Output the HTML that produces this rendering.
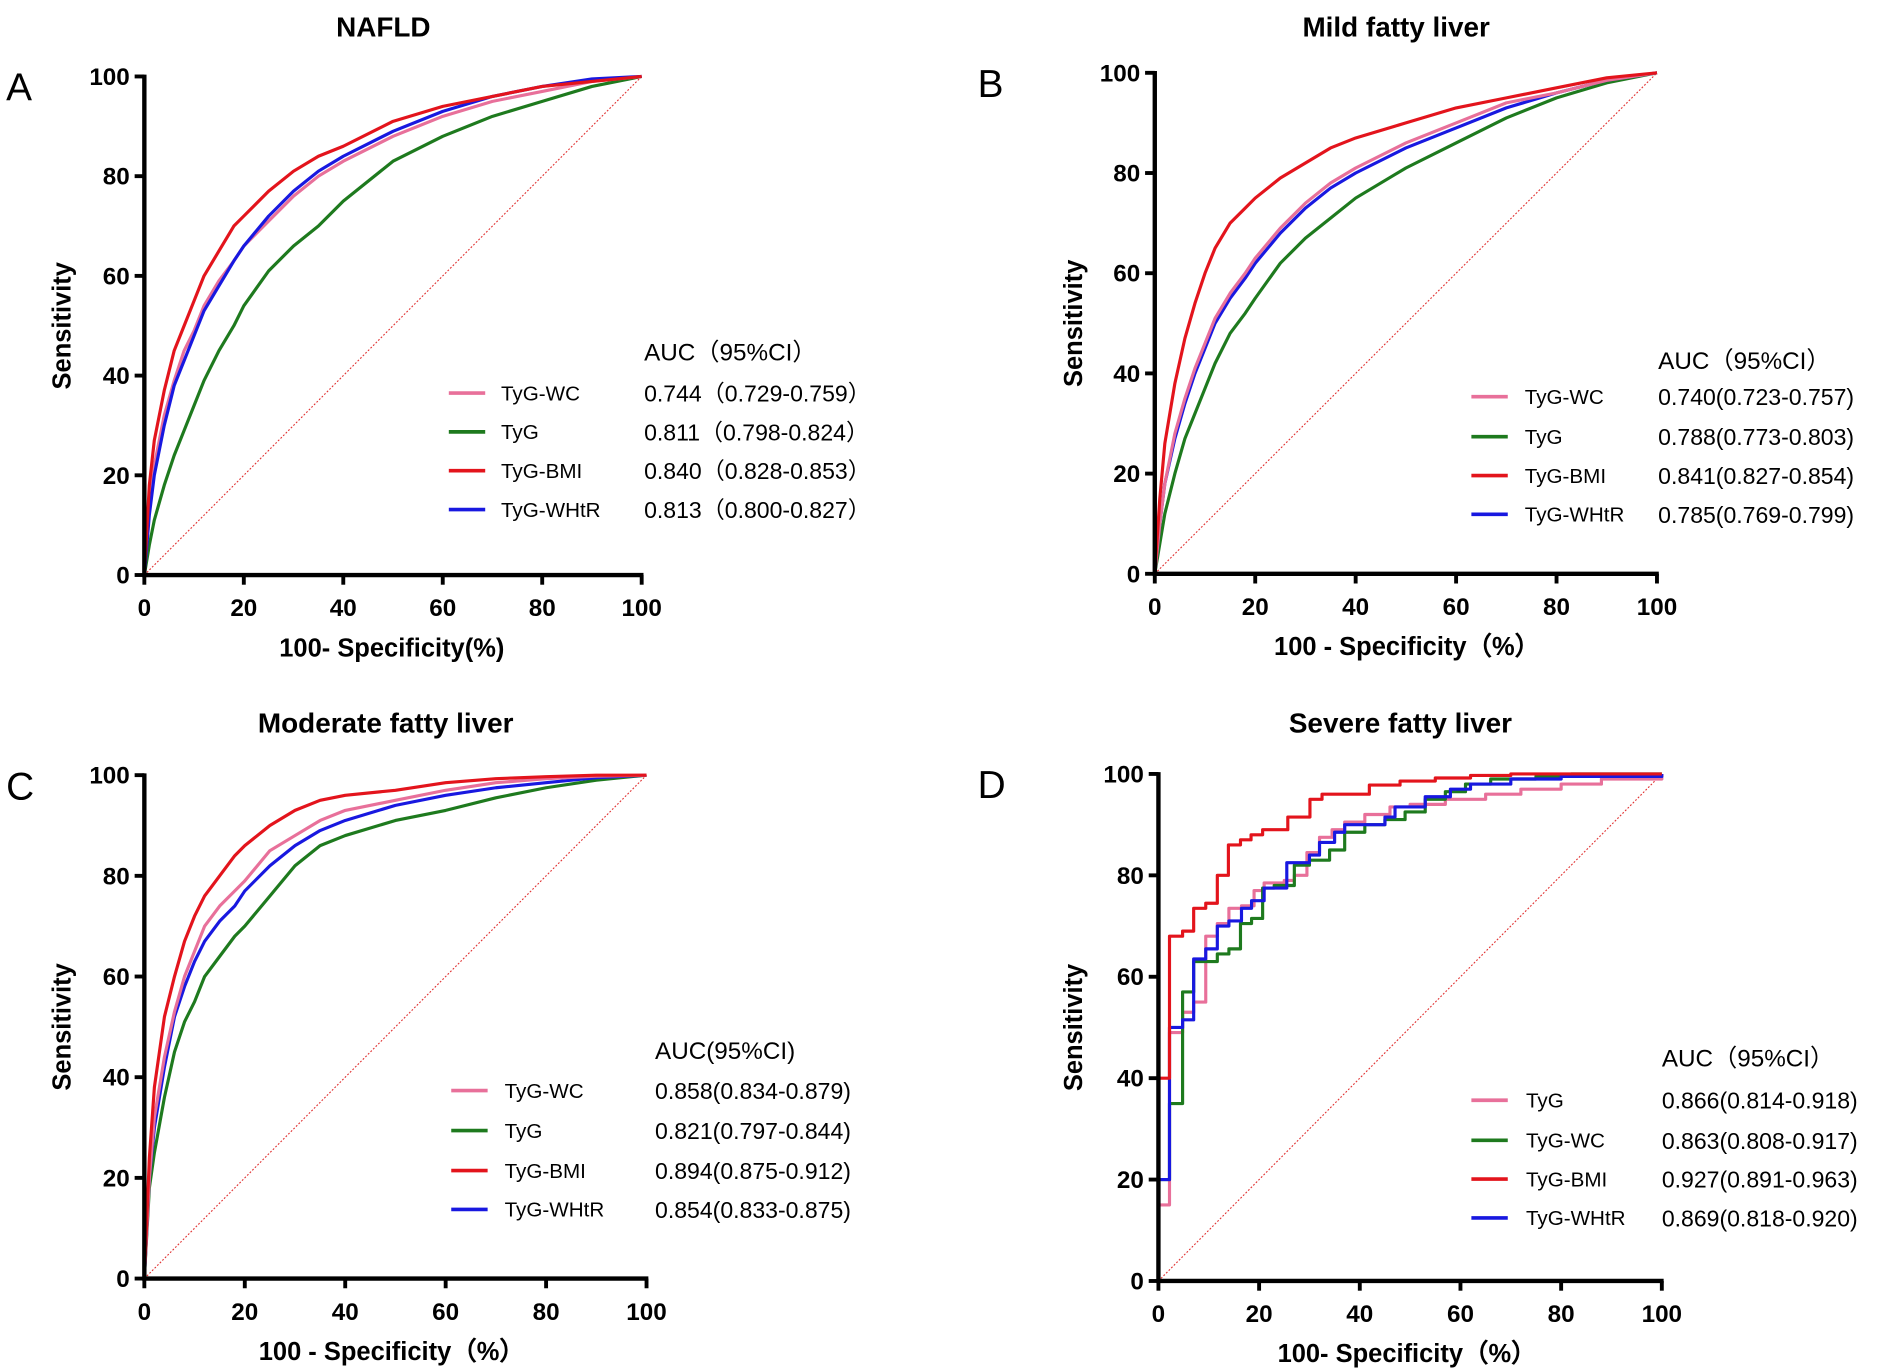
<!DOCTYPE html>
<html><head><meta charset="utf-8"><style>
html,body{margin:0;padding:0;background:#fff}
svg{display:block}
text{font-family:"Liberation Sans Narrow","Liberation Sans",sans-serif}
</style></head><body>
<svg id="fig" width="1902" height="1372" viewBox="0 0 1568 1131" xmlns="http://www.w3.org/2000/svg"></svg>
<script>
// Shared x grid for smooth ROC curves (100 - specificity %)
const fprGrid = [0,1,2,4,6,8,10,12,15,18,20,25,30,35,40,50,60,70,80,90,100];
const tickValues = [0,20,40,60,80,100];

// Panel A: NAFLD
const aRed   = [0,18,27,37,45,50,55,60,65,70,72,77,81,84,86,91,94,96,98,99,100];
const aBlue  = [0,12,20,30,38,43,48,53,58,63,66,72,77,81,84,89,93,96,98,99.5,100];
const aPink  = [0,14,22,32,39,45,49,54,59,63,66,71,76,80,83,88,92,95,97,99,100];
const aGreen = [0,6,11,18,24,29,34,39,45,50,54,61,66,70,75,83,88,92,95,98,100];
// Panel B: Mild
const bRed   = [0,15,26,38,47,54,60,65,70,73,75,79,82,85,87,90,93,95,97,99,100];
const bPink  = [0,10,18,28,35,41,46,51,56,60,63,69,74,78,81,86,90,94,96,98.5,100];
const bBlue  = [0,10,18,27,34,40,45,50,55,59,62,68,73,77,80,85,89,93,96,98.5,100];
const bGreen = [0,6,12,20,27,32,37,42,48,52,55,62,67,71,75,81,86,91,95,98,100];
// Panel C: Moderate
const cRed   = [0,24,38,52,60,67,72,76,80,84,86,90,93,95,96,97,98.5,99.3,99.7,100,100];
const cPink  = [0,20,32,44,53,60,65,70,74,77,79,85,88,91,93,95,97,98.5,99.3,99.8,100];
const cBlue  = [0,20,30,42,52,58,63,67,71,74,77,82,86,89,91,94,96,97.5,98.5,99.5,100];
const cGreen = [0,18,25,36,45,51,55,60,64,68,70,76,82,86,88,91,93,95.5,97.5,99,100];
// Panel D: Severe (step curves)
const dRedX   = [0,2.2,4.8,7,9.4,11.7,13.9,16.3,18.4,20.7,25.7,30.1,32.5,41.9,48,55,62,70,100];
const dRedY   = [40,68,69,73.5,74.5,80,86,87,88,89,91.5,95,96,97.8,98.6,99.2,99.7,100,100];
const dPinkX  = [0,2.2,4.8,7,9.4,11.7,14,16.5,19,21,25,27,29.5,32,34.5,37,41,46,50,57,65,72,80,88,100];
const dPinkY  = [15,49,53,55,68,70.5,73.5,74,77,78.5,79,80,84.5,87.5,89,90.5,92,93.5,94,95,96,97,98,99,100];
const dGreenX = [0,2.2,4.8,7,9.4,11.7,14,16.3,18.5,20.7,23,27,30,34,37,41,45,49,53,57,61,66,75,82,100];
const dGreenY = [20,35,57,63,63,64.5,65.5,70.5,71.5,77.5,78,82,83,85,88.5,90,91,92.5,95,96.5,98,99,99.5,100,100];
const dBlueX  = [0,2.2,4.8,7,9.4,11.7,14,16.5,18.5,21,23,25.5,30,32,35,37,41,45,47,53,58,62,70,80,100];
const dBlueY  = [20,50,51.5,63.5,65.5,70,71,73.5,75,77.5,77.5,82.5,84,86.5,88.5,90,90,91.5,93.5,95.5,97,98,99,99.5,100];

const legendA = [["TyG-WC","0.744（0.729-0.759）"],["TyG","0.811（0.798-0.824）"],["TyG-BMI","0.840（0.828-0.853）"],["TyG-WHtR","0.813（0.800-0.827）"]];
const legendB = [["TyG-WC","0.740(0.723-0.757)"],["TyG","0.788(0.773-0.803)"],["TyG-BMI","0.841(0.827-0.854)"],["TyG-WHtR","0.785(0.769-0.799)"]];
const legendC = [["TyG-WC","0.858(0.834-0.879)"],["TyG","0.821(0.797-0.844)"],["TyG-BMI","0.894(0.875-0.912)"],["TyG-WHtR","0.854(0.833-0.875)"]];
const legendD = [["TyG","0.866(0.814-0.918)"],["TyG-WC","0.863(0.808-0.917)"],["TyG-BMI","0.927(0.891-0.963)"],["TyG-WHtR","0.869(0.818-0.920)"]];

const PINK="#e8709a", GREEN="#1e7a1e", RED="#e3141c", BLUE="#1818e0";
const NS="http://www.w3.org/2000/svg";
const svg=document.getElementById('fig');
function mk(tag,attrs,parent,txt){const e=document.createElementNS(NS,tag);for(const k in attrs)e.setAttribute(k,attrs[k]);if(txt!==undefined)e.textContent=txt;(parent||svg).appendChild(e);return e;}

function panel(p){
  const g=mk('g',{});
  
  
  const sx=v=>p.x0+(p.x1-p.x0)*v/100, sy=v=>p.y0-(p.y0-p.y1)*v/100;
  let t=mk('text',{x:(p.x0+p.x1)/2-8,y:p.titleY,'text-anchor':'middle','font-size':23,'font-weight':'bold'},g,p.title);
  
  t=mk('text',{x:p.letterX,y:p.y1+20,'font-size':32,'font-family':'Liberation Sans, sans-serif'},g,p.letter);
  
  // diagonal
  let d=mk('line',{x1:sx(0),y1:sy(0),x2:sx(100),y2:sy(100),stroke:'#e03030','stroke-width':0.9,'stroke-dasharray':'1.5,1.5'},g);
  
  // curves
  p.series.forEach(s=>{
    let dstr='';
    if(s.step){
      dstr='M'+sx(0)+','+sy(0);
      for(let i=0;i<s.x.length;i++){dstr+=' H'+sx(s.x[i])+' V'+sy(s.y[i]);}
    } else {
      dstr=s.y.map((v,i)=>(i?'L':'M')+sx(fprGrid[i]).toFixed(2)+','+sy(v).toFixed(2)).join(' ');
    }
    const c=mk('path',{d:dstr,fill:'none',stroke:s.color,'stroke-width':2.6,'stroke-linejoin':'round'},g);
    
    
  });
  // axes
  let ax=mk('path',{d:`M${sx(0)},${sy(100)-1.5} V${sy(0)} H${sx(100)+1.5}`,fill:'none',stroke:'#000','stroke-width':3.6},g);
  
  tickValues.forEach(v=>{
    mk('line',{x1:sx(0)-8,y1:sy(v),x2:sx(0),y2:sy(v),stroke:'#000','stroke-width':3.2},g);
    let yl=mk('text',{x:sx(0)-12,y:sy(v)+7,'text-anchor':'end','font-size':20,'font-weight':'bold'},g,String(v));
    
    mk('line',{x1:sx(v),y1:sy(0),x2:sx(v),y2:sy(0)+8,stroke:'#000','stroke-width':3.2},g);
    let xl=mk('text',{x:sx(v),y:sy(0)+34,'text-anchor':'middle','font-size':20,'font-weight':'bold'},g,String(v));
    
  });
  t=mk('text',{x:p.xtX,y:sy(0)+67,'text-anchor':'middle','font-size':21,'font-weight':'bold'},g,p.xtitle);
  
  const cy=(p.y0+p.y1)/2;
  t=mk('text',{x:p.ytX,y:cy,'text-anchor':'middle','font-size':21,'font-weight':'bold','font-family':'Liberation Sans, sans-serif',transform:`rotate(-90 ${p.ytX} ${cy})`},g,'Sensitivity');
  
  // legend
  const lf='Liberation Sans, sans-serif';
  t=mk('text',{x:p.lg.vx,y:p.lg.hy,'font-size':20,'font-family':lf},g,p.lg.head);
  
  p.lg.rows.forEach((r,i)=>{
    const y=p.lg.ys[i];
    const e=mk('g',{},g);
    
    mk('line',{x1:p.lg.lx,y1:y,x2:p.lg.lx+30,y2:y,stroke:p.lg.colors[i],'stroke-width':3},e);
    mk('text',{x:p.lg.tx,y:y+6,'font-size':17,'font-family':lf},e,r[0]);
    mk('text',{x:p.lg.vx,y:y+7,'font-size':19,'font-family':lf},e,r[1]);
  });
}

panel({id:'a',title:'NAFLD',letter:'A',titleY:30,letterX:5,x0:119,x1:529,y0:474,y1:63,xtitle:'100- Specificity(%)',xtX:323,ytX:58,
  series:[{name:'TyG',color:GREEN,y:aGreen},{name:'TyG-WC',color:PINK,y:aPink},{name:'TyG-WHtR',color:BLUE,y:aBlue},{name:'TyG-BMI',color:RED,y:aRed}],
  lg:{head:'AUC（95%CI）',hy:297,ys:[324,356,388,420],lx:370,tx:413,vx:531,rows:legendA,colors:[PINK,GREEN,RED,BLUE]}});
panel({id:'b',title:'Mild fatty liver',letter:'B',titleY:30,letterX:806,x0:952,x1:1366,y0:473,y1:60,xtitle:'100 - Specificity（%）',xtX:1160,ytX:892,
  series:[{name:'TyG',color:GREEN,y:bGreen},{name:'TyG-WHtR',color:BLUE,y:bBlue},{name:'TyG-WC',color:PINK,y:bPink},{name:'TyG-BMI',color:RED,y:bRed}],
  lg:{head:'AUC（95%CI）',hy:304,ys:[327,360,392,424],lx:1213,tx:1257,vx:1367,rows:legendB,colors:[PINK,GREEN,RED,BLUE]}});
panel({id:'c',title:'Moderate fatty liver',letter:'C',titleY:604,letterX:5,x0:119,x1:533,y0:1054,y1:639,xtitle:'100 - Specificity（%）',xtX:323,ytX:58,
  series:[{name:'TyG',color:GREEN,y:cGreen},{name:'TyG-WHtR',color:BLUE,y:cBlue},{name:'TyG-WC',color:PINK,y:cPink},{name:'TyG-BMI',color:RED,y:cRed}],
  lg:{head:'AUC(95%CI)',hy:873,ys:[899,932,965,997],lx:372,tx:416,vx:540,rows:legendC,colors:[PINK,GREEN,RED,BLUE]}});
panel({id:'d',title:'Severe fatty liver',letter:'D',titleY:604,letterX:806,x0:955,x1:1370,y0:1056,y1:638,xtitle:'100- Specificity（%）',xtX:1160,ytX:892,
  series:[{name:'TyG',color:PINK,step:true,x:dPinkX,y:dPinkY},{name:'TyG-WC',color:GREEN,step:true,x:dGreenX,y:dGreenY},{name:'TyG-WHtR',color:BLUE,step:true,x:dBlueX,y:dBlueY},{name:'TyG-BMI',color:RED,step:true,x:dRedX,y:dRedY}],
  lg:{head:'AUC（95%CI）',hy:879,ys:[907,940,972,1004],lx:1213,tx:1258,vx:1370,rows:legendD,colors:[PINK,GREEN,RED,BLUE]}});
</script>
</body></html>
